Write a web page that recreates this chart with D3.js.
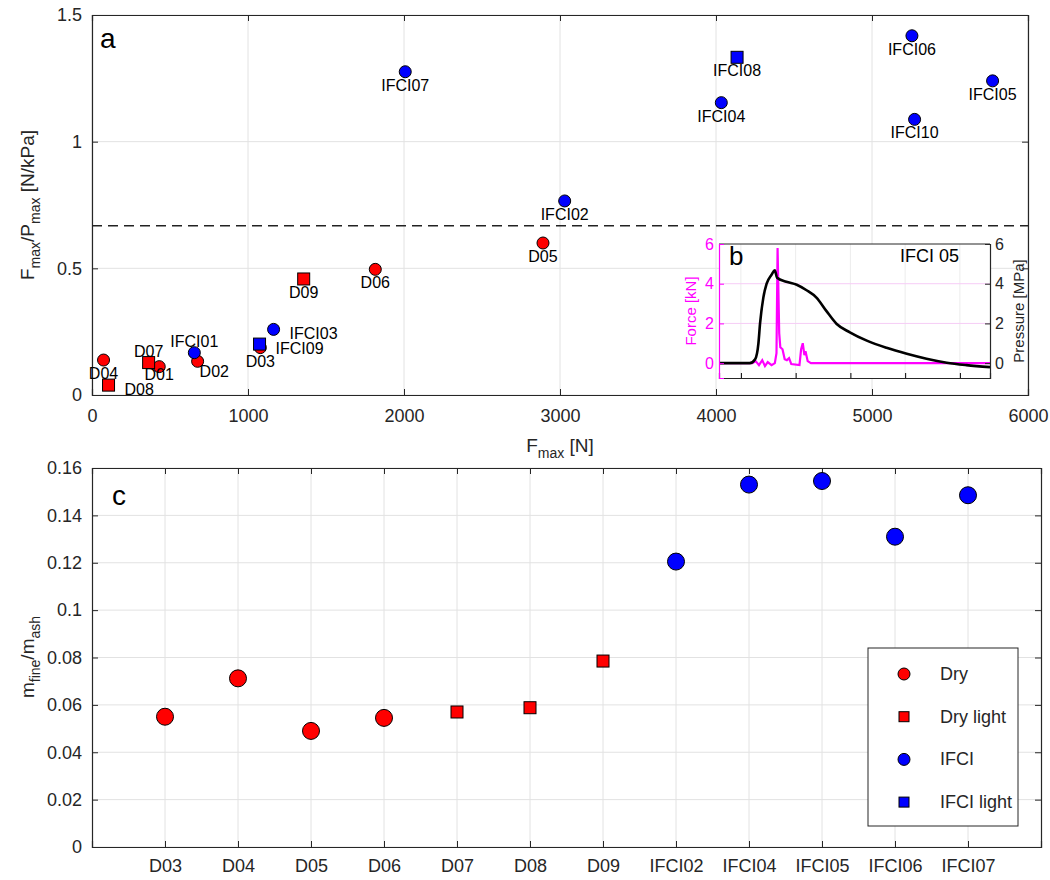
<!DOCTYPE html>
<html>
<head>
<meta charset="utf-8">
<script src="https://cdn.jsdelivr.net/npm/d3@7"></script>
<style>
body { margin: 0; background: #fff; }
text { font-family: "Liberation Sans", Arial, sans-serif; }
</style>
</head>
<body>
<div id="chart"></div>
<script>
// panel a : Fmax vs Fmax/Pmax
const namesA = ["D01","D02","D03","D04","D05","D06","D07","D08","D09","IFCI01","IFCI02","IFCI03","IFCI04","IFCI05","IFCI06","IFCI07","IFCI08","IFCI09","IFCI10"];
const fmaxA = [431, 677, 1079, 74, 2891, 1816, 363, 106, 1357, 656, 3030, 1164, 4034, 5773, 5256, 2008, 4135, 1074, 5273];
const ratioA = [0.112, 0.133, 0.187, 0.138, 0.600, 0.496, 0.128, 0.039, 0.458, 0.167, 0.766, 0.259, 1.154, 1.240, 1.418, 1.276, 1.333, 0.201, 1.088];
const groupA = ["Dry","Dry","Dry","Dry","Dry","Dry","Dry light","Dry light","Dry light","IFCI","IFCI","IFCI","IFCI","IFCI","IFCI","IFCI","IFCI light","IFCI light","IFCI"];
const thresholdA = 0.668;
const xTicksA = [0, 1000, 2000, 3000, 4000, 5000, 6000];
const yTicksA = [0, 0.5, 1, 1.5];

// panel b (inset) : IFCI 05 record
const pressT = [-0.4, 0.16, 0.26, 0.32, 0.35, 0.41, 0.47, 0.56, 0.62, 0.66, 0.83, 1.02, 1.2, 1.38, 1.56, 1.75, 1.99, 2.3, 2.66, 3.03, 3.39, 3.76, 4.12, 4.55];
const pressV = [0, 0, 0.2, 1.0, 2.0, 3.3, 4.0, 4.45, 4.67, 4.3, 4.1, 3.95, 3.67, 3.3, 2.63, 1.97, 1.55, 1.13, 0.77, 0.47, 0.22, 0.02, -0.1, -0.2];
const forceT = [-0.4, 0.21, 0.27, 0.33, 0.39, 0.44, 0.49, 0.56, 0.62, 0.65, 0.67, 0.7, 0.72, 0.76, 0.8, 0.84, 0.88, 0.92, 1.07, 1.1, 1.13, 1.16, 1.18, 1.22, 1.28, 4.55];
const forceV = [0, 0, 0.1, -0.1, 0.15, -0.15, 0.05, -0.1, 0, 0.5, 5.8, 1.5, 0.8, 0.7, 0.2, 0.15, 0.25, -0.05, -0.1, 0.7, 1.0, 0.4, 0.6, 0.1, 0, 0];
const xTicksB = [0, 1, 2, 3, 4];
const yTicksB = [0, 2, 4, 6];

// panel c : fine fraction
const catsC = ["D03","D04","D05","D06","D07","D08","D09","IFCI02","IFCI04","IFCI05","IFCI06","IFCI07"];
const ratioC = [0.055, 0.0712, 0.049, 0.0545, 0.057, 0.0588, 0.0785, 0.1205, 0.153, 0.1545, 0.131, 0.1485];
const groupC = ["Dry","Dry","Dry","Dry","Dry light","Dry light","Dry light","IFCI","IFCI","IFCI","IFCI","IFCI"];
const yTicksC = [0, 0.02, 0.04, 0.06, 0.08, 0.1, 0.12, 0.14, 0.16];

const legendNames = ["Dry", "Dry light", "IFCI", "IFCI light"];

const axisCol = "#262626";
const gridCol = "#e2e2e2";
const color = g => g.startsWith("Dry") ? "#ff0000" : "#0000ff";
const isSquare = g => g.endsWith("light");

const svg = d3.select("#chart").append("svg")
    .attr("width", 1050)
    .attr("height", 880);

// label placement for panel a
const labelPos = { D07: "above", IFCI01: "above", D08: "right", IFCI09: "right", IFCI03: "right", D02: "belowright", D01: "belowtight" };

function drawMarker(g, x, y, grp, r, side) {
    if (isSquare(grp)) {
        g.append("rect")
            .attr("x", x - side / 2).attr("y", y - side / 2)
            .attr("width", side).attr("height", side)
            .attr("fill", color(grp)).attr("stroke", "#000").attr("stroke-width", 1);
    } else {
        g.append("circle")
            .attr("cx", x).attr("cy", y).attr("r", r)
            .attr("fill", color(grp)).attr("stroke", "#000").attr("stroke-width", 1);
    }
}

// ---------------- panel a ----------------
const xA = d3.scaleLinear().domain([0, 6000]).range([92, 1028]);
const yA = d3.scaleLinear().domain([0, 1.5]).range([395, 15]);
const gA = svg.append("g");

gA.selectAll(".gx").data(xTicksA).enter().append("line")
    .attr("x1", d => xA(d)).attr("x2", d => xA(d))
    .attr("y1", yA(0)).attr("y2", yA(1.5))
    .attr("stroke", gridCol);
gA.selectAll(".gy").data(yTicksA).enter().append("line")
    .attr("x1", xA(0)).attr("x2", xA(6000))
    .attr("y1", d => yA(d)).attr("y2", d => yA(d))
    .attr("stroke", gridCol);

gA.append("g").attr("transform", "translate(0,395)")
    .call(d3.axisBottom(xA).tickValues(xTicksA).tickSize(-6).tickPadding(14).tickFormat(d3.format("d")));
gA.append("g").attr("transform", "translate(0,15)")
    .call(d3.axisTop(xA).tickValues(xTicksA).tickSize(-6).tickFormat(""));
gA.append("g").attr("transform", "translate(92,0)")
    .call(d3.axisLeft(yA).tickValues(yTicksA).tickSize(-6).tickPadding(10).tickFormat(d => d));
gA.append("g").attr("transform", "translate(1028,0)")
    .call(d3.axisRight(yA).tickValues(yTicksA).tickSize(-6).tickFormat(""));

gA.append("line")
    .attr("x1", xA(0)).attr("x2", xA(6000))
    .attr("y1", yA(thresholdA)).attr("y2", yA(thresholdA))
    .attr("stroke", "#222").attr("stroke-width", 1.3).attr("stroke-dasharray", "10,6");

// draw circles first, squares on top
let orderA = d3.range(namesA.length).sort((a, b) => (isSquare(groupA[a]) - isSquare(groupA[b])) || (groupA[a] < groupA[b] ? -1 : 1));
orderA.forEach(i => {
    drawMarker(gA, xA(fmaxA[i]), yA(ratioA[i]), groupA[i], 6, 12);
});
namesA.forEach((n, i) => {
    let px = xA(fmaxA[i]), py = yA(ratioA[i]);
    let pos = labelPos[n] || "below";
    let t = gA.append("text").text(n).attr("font-size", 16).attr("fill", "#000");
    if (pos == "below") t.attr("x", px).attr("y", py + 19).attr("text-anchor", "middle");
    if (pos == "belowtight") t.attr("x", px).attr("y", py + 13).attr("text-anchor", "middle");
    if (pos == "above") t.attr("x", px).attr("y", py - 6).attr("text-anchor", "middle");
    if (pos == "right") t.attr("x", px + 16).attr("y", py + 10);
    if (pos == "belowright") t.attr("x", px + 2).attr("y", py + 16);
});

gA.append("text").attr("x", 100).attr("y", 48).attr("font-size", 28).text("a");

// x label
let xl = gA.append("text").attr("x", 560).attr("y", 452).attr("text-anchor", "middle").attr("font-size", 19).attr("fill", axisCol);
xl.append("tspan").text("F");
xl.append("tspan").attr("dy", 6).attr("font-size", 14).text("max");
xl.append("tspan").attr("dy", -6).text(" [N]");

let yl = gA.append("text").attr("transform", "translate(34,205) rotate(-90)").attr("text-anchor", "middle").attr("font-size", 19).attr("fill", axisCol);
yl.append("tspan").text("F");
yl.append("tspan").attr("dy", 6).attr("font-size", 14).text("max");
yl.append("tspan").attr("dy", -6).text("/P");
yl.append("tspan").attr("dy", 6).attr("font-size", 14).text("max");
yl.append("tspan").attr("dy", -6).text(" [N/kPa]");

// ---------------- panel b (inset) ----------------
const xB = d3.scaleLinear().domain([-0.4, 4.55]).range([719, 990]);
const yB = d3.scaleLinear().domain([-0.75, 6]).range([378, 244]);
const gB = svg.append("g");

gB.append("rect").attr("x", 719).attr("y", 244).attr("width", 271).attr("height", 134).attr("fill", "#fff");
gB.selectAll(".bx").data(xTicksB).enter().append("line")
    .attr("x1", d => xB(d)).attr("x2", d => xB(d)).attr("y1", 244).attr("y2", 378)
    .attr("stroke", "#ececec");
gB.selectAll(".by").data([2, 4]).enter().append("line")
    .attr("x1", 719).attr("x2", 990).attr("y1", d => yB(d)).attr("y2", d => yB(d))
    .attr("stroke", "#f6ccf6");

const lineB = d3.line().x(d => xB(d[0])).y(d => yB(d[1]));
gB.append("path").datum(forceT.map((t, i) => [t, forceV[i]]))
    .attr("d", lineB).attr("fill", "none").attr("stroke", "#ff00ff").attr("stroke-width", 2.2);
gB.append("path").datum(pressT.map((t, i) => [t, pressV[i]]))
    .attr("d", d3.line().curve(d3.curveMonotoneX).x(d => xB(d[0])).y(d => yB(d[1])))
    .attr("fill", "none").attr("stroke", "#000").attr("stroke-width", 2.6);

gB.append("line").attr("x1", 719).attr("x2", 990).attr("y1", 244).attr("y2", 244).attr("stroke", axisCol);
gB.append("g").attr("transform", "translate(0,378)")
    .call(d3.axisBottom(xB).tickValues(xTicksB).tickSize(-5).tickFormat(""));
let lb = gB.append("g").attr("transform", "translate(719,0)")
    .call(d3.axisLeft(yB).tickValues(yTicksB).tickSize(-5).tickPadding(5).tickFormat(d3.format("d")));
lb.selectAll("line,path").attr("stroke", "#ff00ff");
lb.selectAll("text").attr("fill", "#ff00ff").attr("font-size", 16).attr("font-family", "Liberation Sans, Arial, sans-serif");
let rb = gB.append("g").attr("transform", "translate(990,0)")
    .call(d3.axisRight(yB).tickValues(yTicksB).tickSize(-5).tickPadding(5).tickFormat(d3.format("d")));
rb.selectAll("line,path").attr("stroke", axisCol);
rb.selectAll("text").attr("fill", axisCol).attr("font-size", 16).attr("font-family", "Liberation Sans, Arial, sans-serif");

gB.append("text").attr("transform", "translate(696,311) rotate(-90)").attr("text-anchor", "middle")
    .attr("font-size", 15).attr("fill", "#ff00ff").text("Force [kN]");
gB.append("text").attr("transform", "translate(1024,311) rotate(-90)").attr("text-anchor", "middle")
    .attr("font-size", 15).attr("fill", axisCol).text("Pressure [MPa]");
gB.append("text").attr("x", 729).attr("y", 265).attr("font-size", 26).text("b");
gB.append("text").attr("x", 900).attr("y", 262).attr("font-size", 18).text("IFCI 05");

// ---------------- panel c ----------------
const xC = d3.scaleLinear().domain([0, catsC.length + 1]).range([92, 1041]);
const yC = d3.scaleLinear().domain([0, 0.16]).range([847, 468]);
const gC = svg.append("g");

gC.selectAll(".cx").data(catsC).enter().append("line")
    .attr("x1", (d, i) => xC(i + 1)).attr("x2", (d, i) => xC(i + 1))
    .attr("y1", 468).attr("y2", 847).attr("stroke", gridCol);
gC.selectAll(".cy").data(yTicksC).enter().append("line")
    .attr("x1", 92).attr("x2", 1041)
    .attr("y1", d => yC(d)).attr("y2", d => yC(d)).attr("stroke", gridCol);

gC.append("g").attr("transform", "translate(0,847)")
    .call(d3.axisBottom(xC).tickValues(d3.range(1, catsC.length + 1)).tickSize(-6).tickPadding(12).tickFormat(d => catsC[d - 1]));
gC.append("g").attr("transform", "translate(0,468)")
    .call(d3.axisTop(xC).tickValues(d3.range(1, catsC.length + 1)).tickSize(-6).tickFormat(""));
gC.append("g").attr("transform", "translate(92,0)")
    .call(d3.axisLeft(yC).tickValues(yTicksC).tickSize(-6).tickPadding(10).tickFormat(d => d));
gC.append("g").attr("transform", "translate(1041,0)")
    .call(d3.axisRight(yC).tickValues(yTicksC).tickSize(-6).tickFormat(""));

catsC.forEach((c, i) => {
    drawMarker(gC, xC(i + 1), yC(ratioC[i]), groupC[i], 8.5, 12);
});

gC.append("text").attr("x", 112).attr("y", 505).attr("font-size", 28).text("c");

let cl = gC.append("text").attr("transform", "translate(34,657) rotate(-90)").attr("text-anchor", "middle").attr("font-size", 19).attr("fill", axisCol);
cl.append("tspan").text("m");
cl.append("tspan").attr("dy", 6).attr("font-size", 14).text("fine");
cl.append("tspan").attr("dy", -6).text("/m");
cl.append("tspan").attr("dy", 6).attr("font-size", 14).text("ash");

// legend
const lg = gC.append("g");
lg.append("rect").attr("x", 868).attr("y", 648).attr("width", 150).attr("height", 178)
    .attr("fill", "#fff").attr("stroke", axisCol).attr("stroke-width", 1);
legendNames.forEach((n, i) => {
    let ly = 674 + i * 42.7;
    drawMarker(lg, 904, ly, n, 6, 10);
    lg.append("text").attr("x", 940).attr("y", ly + 6).attr("font-size", 18).attr("fill", axisCol).text(n);
});

// common axis styling
svg.selectAll(".domain").attr("stroke", axisCol).attr("stroke-width", 1.2);
gA.selectAll(".tick line").attr("stroke", axisCol);
gC.selectAll(".tick line").attr("stroke", axisCol);
gA.selectAll(".tick text").attr("font-size", 18).attr("fill", axisCol).attr("font-family", "Liberation Sans, Arial, sans-serif");
gC.selectAll(".tick text").attr("font-size", 18).attr("fill", axisCol).attr("font-family", "Liberation Sans, Arial, sans-serif");
lb.select(".domain").attr("stroke", "#ff00ff");
</script>
</body>
</html>
